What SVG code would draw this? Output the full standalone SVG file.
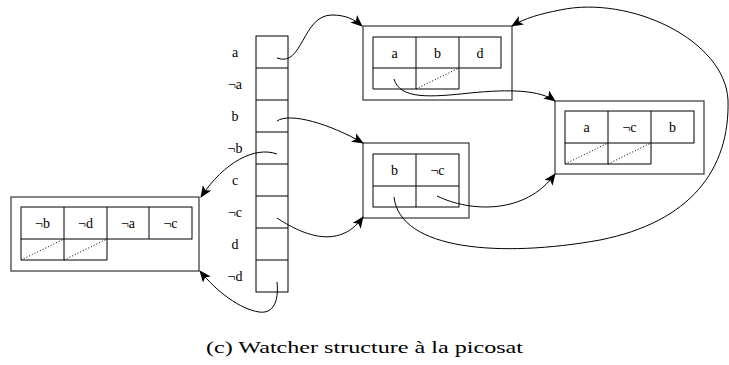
<svg xmlns="http://www.w3.org/2000/svg" width="729" height="365" viewBox="0 0 729 365">
  <style>
    .outer { fill: none; stroke: #444; stroke-width: 1.3; }
    .grid { fill: none; stroke: #000; stroke-width: 1; }
    .dot { stroke: #000; stroke-width: 1; stroke-dasharray: 1 2; fill: none; }
    .lbl { font-size: 14px; fill: #000; text-anchor: middle; }
    .edge { fill: none; stroke: #000; stroke-width: 1; marker-end: url(#stealth); }
    .cap { font-size: 17px; fill: #000; }
  </style>
  <defs>
    <marker id="stealth" viewBox="0 0 12 10" refX="11" refY="5" markerWidth="12" markerHeight="10" markerUnits="userSpaceOnUse" orient="auto">
      <path d="M0,0 L12,5 L0,10 L3,5 Z" fill="#000"/>
    </marker>
  </defs>

  <g font-family="Liberation Serif, DejaVu Serif, serif">
  <!-- literal watch list column -->
  <g id="watch-array">
    <rect class="grid" x="256" y="36" width="32" height="256"/>
    <path class="grid" d="M256,68H288M256,100H288M256,132H288M256,164H288M256,196H288M256,228H288M256,260H288"/>
    <text class="lbl" x="235" y="57">a</text>
    <text class="lbl" x="235" y="89">¬a</text>
    <text class="lbl" x="235" y="121">b</text>
    <text class="lbl" x="235" y="153">¬b</text>
    <text class="lbl" x="235" y="185">c</text>
    <text class="lbl" x="235" y="217">¬c</text>
    <text class="lbl" x="235" y="249">d</text>
    <text class="lbl" x="235" y="281">¬d</text>
  </g>

  <!-- clause a b d -->
  <g id="clause-abd">
    <rect class="outer" x="363" y="26" width="149" height="74"/>
    <rect class="grid" x="373" y="37" width="128" height="31"/>
    <path class="grid" d="M416,37V89M459,37V89M373,68V89H459"/>
    <path class="dot" d="M416,89L459,68"/>
    <text class="lbl" x="394.5" y="57.5">a</text>
    <text class="lbl" x="437.5" y="57.5">b</text>
    <text class="lbl" x="480" y="57.5">d</text>
  </g>

  <!-- clause a ¬c b -->
  <g id="clause-anotcb">
    <rect class="outer" x="555" y="101" width="149" height="73"/>
    <rect class="grid" x="565" y="111" width="129" height="32"/>
    <path class="grid" d="M608,111V164M651,111V164M565,143V164H651"/>
    <path class="dot" d="M565,164L608,143M608,164L651,143"/>
    <text class="lbl" x="586.5" y="132">a</text>
    <text class="lbl" x="629.5" y="132">¬c</text>
    <text class="lbl" x="672.5" y="132">b</text>
  </g>

  <!-- clause b ¬c -->
  <g id="clause-bnotc">
    <rect class="outer" x="363" y="143" width="106" height="75"/>
    <rect class="grid" x="373" y="154" width="86" height="53"/>
    <path class="grid" d="M416,154V207M373,186H459"/>
    <text class="lbl" x="394.5" y="175">b</text>
    <text class="lbl" x="437.5" y="175">¬c</text>
  </g>

  <!-- clause ¬b ¬d ¬a ¬c -->
  <g id="clause-notbdac">
    <rect class="outer" x="11" y="197" width="188" height="74"/>
    <rect class="grid" x="21" y="207" width="171" height="32"/>
    <path class="grid" d="M64,207V260M107,207V260M149,207V239M21,239V260H107"/>
    <path class="dot" d="M21,260L64,239M64,260L107,239"/>
    <text class="lbl" x="42.5" y="228">¬b</text>
    <text class="lbl" x="85.5" y="228">¬d</text>
    <text class="lbl" x="128" y="228">¬a</text>
    <text class="lbl" x="170.5" y="228">¬c</text>
  </g>

  <text class="cap" x="206" y="353" textLength="317" lengthAdjust="spacingAndGlyphs">(c) Watcher structure à la picosat</text>
  </g>

  <!-- watch pointers -->
  <g id="connectors">
    <path class="edge" d="M277,58 C303,68 302,15 332,15 C345,15 354,19 362,26"/>
    <path class="edge" d="M277,121 C290,112 330,124 363,143"/>
    <path class="edge" d="M277,154 C255,146 224,162 201,197"/>
    <path class="edge" d="M277,218 C300,233 338,252 363,217"/>
    <path class="edge" d="M277,282 C279,302 273,314 259,312 C240,309 217,292 200,271"/>
    <path class="edge" d="M394,79 C400,100 432,97 470,93 C510,89 540,90 555,101"/>
    <path class="edge" d="M437,196 C470,212 525,215 555,174"/>
    <path class="edge" d="M394,197 C400,250 500,258 600,240 C690,222 730,170 728,100 C725,40 630,-5 560,10 C540,14 525,18 512,26"/>
  </g>
</svg>
